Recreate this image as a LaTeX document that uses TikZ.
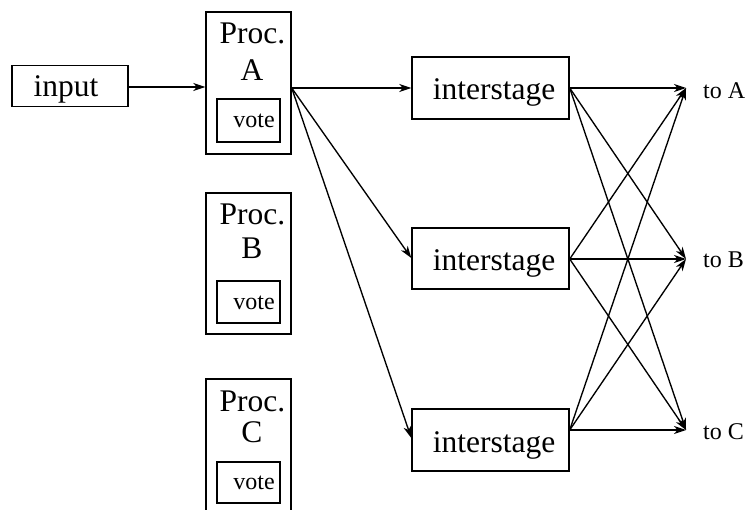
\documentclass[tikz,border=0pt]{standalone}
\usepackage{fontspec}
\setmainfont{Liberation Serif}
\usetikzlibrary{arrows.meta}
\begin{document}
\begin{tikzpicture}[x=1pt,y=-1pt,
  box/.style={draw,line width=1.4pt,rectangle,inner sep=0pt},
  bigtxt/.style={inner sep=0pt,anchor=base,font=\fontsize{31.5}{31.5}\selectfont},
  smalltxt/.style={inner sep=0pt,anchor=base,font=\fontsize{24}{24}\selectfont},
  conn/.style={line width=1.35pt,-{Stealth[length=12pt,width=8pt,inset=3.5pt]}}]
\useasboundingbox (0,0) rectangle (749,510);
% input
\node[box,minimum width=116pt,minimum height=41pt] (input) at (70,86) {};
\node[bigtxt] (inputt) at (66,97) {input};
% Proc A
\node[box,minimum width=85pt,minimum height=142pt] (pa) at (248.5,83) {};
\node[bigtxt] (pa1) at (252.5,44) {Proc.};
\node[bigtxt] (pa2) at (252,81) {A};
\node[box,minimum width=63pt,minimum height=43pt] (va) at (248.5,120.5) {};
\node[smalltxt] (vat) at (254,128) {vote};
% Proc B
\node[box,minimum width=85pt,minimum height=141pt] (pb) at (248.5,263.5) {};
\node[bigtxt] (pb1) at (252.5,225) {Proc.};
\node[bigtxt] (pb2) at (252,259) {B};
\node[box,minimum width=63pt,minimum height=42pt] (vb) at (248.5,302) {};
\node[smalltxt] (vbt) at (254,309) {vote};
% Proc C (clipped at bottom)
\begin{scope}
\clip (0,0) rectangle (749,510);
\node[box,minimum width=85pt,minimum height=150pt] (pc) at (248.5,454) {};
\end{scope}
\node[bigtxt] (pc1) at (252.5,411) {Proc.};
\node[bigtxt] (pc2) at (252,442) {C};
\node[box,minimum width=63pt,minimum height=41pt] (vc) at (248.5,482.5) {};
\node[smalltxt] (vct) at (254,489) {vote};
% interstages
\node[box,minimum width=157pt,minimum height=62pt] (i1) at (490.5,88) {};
\node[bigtxt] (i1t) at (494,100) {interstage};
\node[box,minimum width=157pt,minimum height=61pt] (i2) at (490.5,258.5) {};
\node[bigtxt] (i2t) at (494,271) {interstage};
\node[box,minimum width=157pt,minimum height=62pt] (i3) at (490.5,440) {};
\node[bigtxt] (i3t) at (494,452) {interstage};
% targets
\coordinate (ta) at (686,88);
\coordinate (tb) at (686,259);
\coordinate (tc) at (686,430);
\node[smalltxt,anchor=base west] (la) at (703,99) {to A};
\node[smalltxt,anchor=base west] (lb) at (703,268) {to B};
\node[smalltxt,anchor=base west] (lc) at (703,439) {to C};
% connectors
\draw[conn] (input.east |- 0,87) -- (pa.west |- 0,87);
\coordinate (pas) at (pa.east |- 0,88);
\draw[conn] (pas) -- (i1.west |- 0,88);
\draw[conn] (pas) -- (i2.west |- 0,258);
\draw[conn] (pas) -- (i3.west |- 0,438);
\coordinate (s1) at (i1.east |- 0,88);
\coordinate (s2) at (i2.east |- 0,259);
\coordinate (s3) at (i3.east |- 0,430);
\foreach \s in {s1,s2,s3}{
  \foreach \t in {ta,tb,tc}{
    \draw[conn] (\s) -- (\t);
  }
}
\end{tikzpicture}
\end{document}
